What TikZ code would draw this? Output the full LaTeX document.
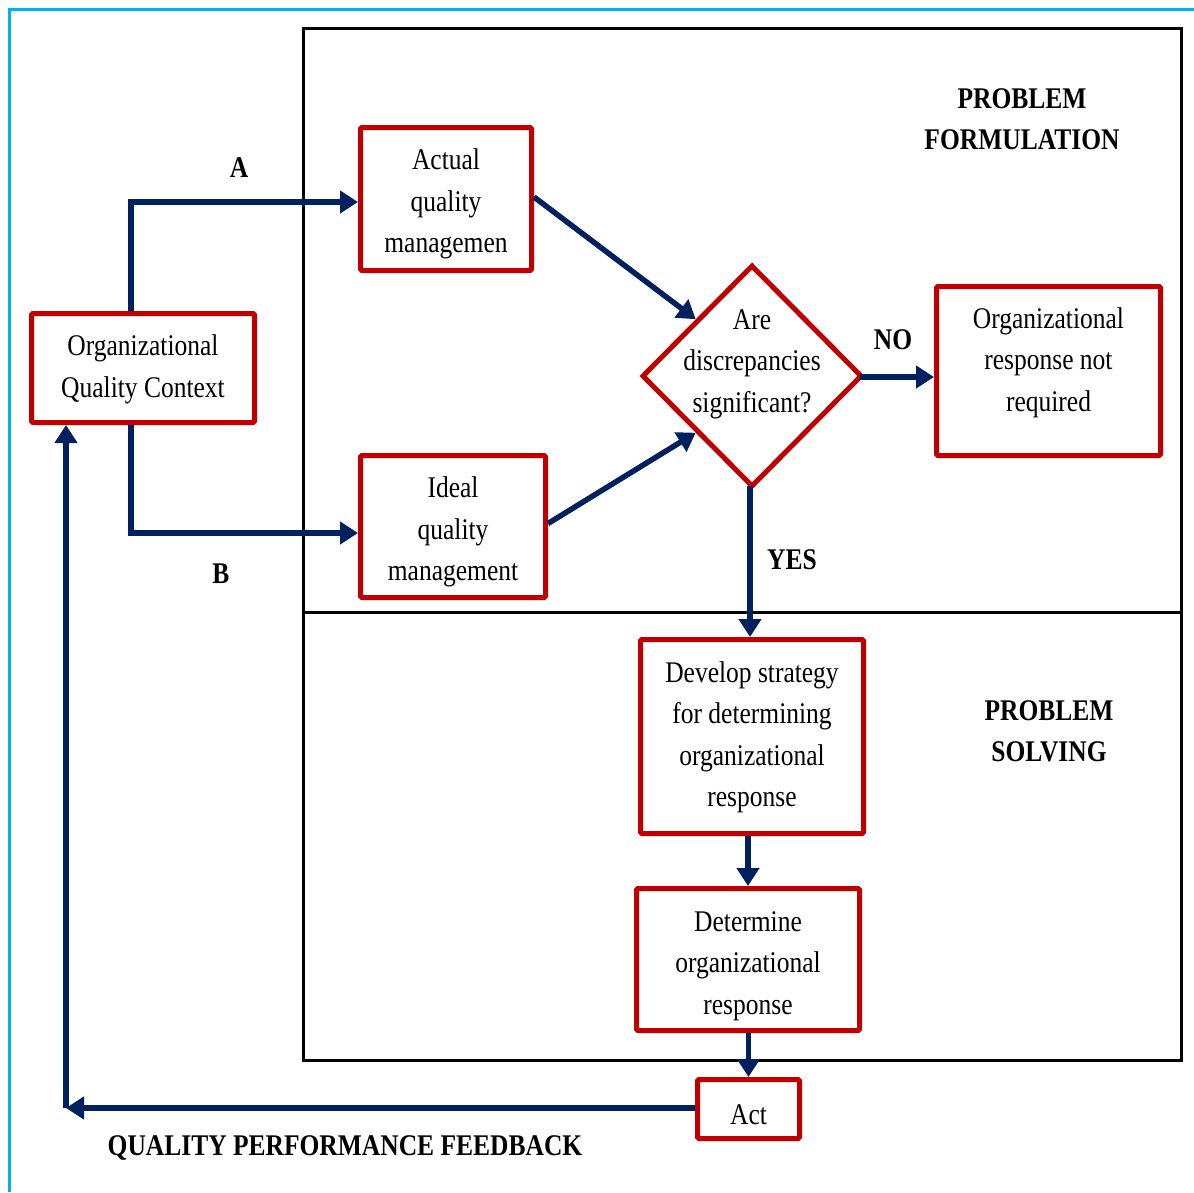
\documentclass[tikz,border=0pt]{standalone}
\usepackage{fontspec}
\setmainfont{Liberation Serif}[FakeStretch=0.85]
\usetikzlibrary{arrows.meta,shapes.geometric,calc}
\definecolor{boxred}{HTML}{C00000}
\definecolor{navy}{HTML}{002060}
\definecolor{framecyan}{HTML}{00B0F0}
\tikzset{
  box/.style={draw=boxred, line width=5pt, rounded corners=1.5pt, inner sep=0pt, fill=white},
  txt/.style={align=center, inner sep=0pt, font=\fontsize{30}{41.5}\selectfont},
  lbl/.style={inner sep=0pt, font=\fontsize{30}{41.5}\selectfont\bfseries, align=center},
  arr/.style={draw=navy, line width=5.5pt, miter limit=10, -{Triangle[length=18pt,width=22pt]}}
}
\begin{document}
\begin{tikzpicture}[x=1pt,y=-1pt]
\useasboundingbox (0,0) rectangle (1194,1192);
% outer accent lines (left and top)
\draw[framecyan, line width=3pt] (9.5,1192) -- (9.5,9.5) -- (1194,9.5);
% process frame with its two stages
\draw[black, line width=3.5pt] (303.5,28.5) rectangle (1181.5,1060.5);
\draw[black, line width=3pt] (303.5,612.5) -- (1181.5,612.5);

% boxes
\node[box, minimum width=223pt, minimum height=109pt] (org) at (143,368) {};
\node[txt] (orgt) at (143,369.5) {Organizational\\Quality Context};
\node[box, minimum width=171pt, minimum height=143pt] (act) at (446,199) {};
\node[txt] (actt) at (446,204) {Actual\\quality\\managemen};
\node[box, minimum width=185pt, minimum height=142pt] (ide) at (453,526.5) {};
\node[txt] (idet) at (453,532) {Ideal\\quality\\management};
\node[diamond, draw=boxred, line width=5pt, inner sep=0pt, aspect=1,
      minimum width=220pt, minimum height=222pt] (dia) at (752,376) {};
\node[txt] (diat) at (752,364) {Are\\discrepancies\\significant?};
\node[box, minimum width=224pt, minimum height=169pt] (nor) at (1048.5,371) {};
\node[txt] (nort) at (1048.5,362.5) {Organizational\\response not\\required};
\node[box, minimum width=223pt, minimum height=194pt] (dev) at (752,736.5) {};
\node[txt] (devt) at (752,737.5) {Develop strategy\\for determining\\organizational\\response};
\node[box, minimum width=223pt, minimum height=142pt] (det) at (748,959.5) {};
\node[txt] (dett) at (748,966) {Determine\\organizational\\response};
\node[box, minimum width=102pt, minimum height=59pt] (actn) at (748.5,1109) {};
\node[txt] (actnt) at (748.5,1115) {Act};

% labels
\node[lbl] (la) at (239,168) {A};
\node[lbl] (lb) at (221,574) {B};
\node[lbl] (lno) at (893,340) {NO};
\node[lbl] (lyes) at (792,560) {YES};
\node[lbl] (lpf) at (1022,119) {PROBLEM\\FORMULATION};
\node[lbl] (lps) at (1049,731.5) {PROBLEM\\SOLVING};
\node[lbl] (lqf) at (345,1148) {QUALITY PERFORMANCE FEEDBACK};

% connectors
\coordinate (ja) at (131,202);
\coordinate (jb) at (131,533);
\coordinate (fb) at (66,1108);
\coordinate (nos) at ($(dia.east)+(-5,1)$);
\coordinate (yes) at ($(dia.south)+(-2,-4)$);
\draw[arr] (ja |- org.north) -- (ja) -- (ja -| act.west);
\draw[arr] (jb |- org.south) -- (jb) -- (jb -| ide.west);
\draw[arr] ($(act.east)+(0,-2)$) -- (dia.north west);
\draw[arr] ($(ide.east)+(0,-3)$) -- (dia.south west);
\draw[arr] (nos) -- (nos -| nor.west);
\draw[arr] (yes) -- (yes |- dev.north);
\draw[arr] (dev.south -| det.north) -- (det.north);
\draw[arr] (det.south -| actn.north) -- (actn.north);
\draw[arr] (actn.west |- fb) -- (fb);
\draw[arr] (fb) -- (fb |- org.south);
\end{tikzpicture}
\end{document}
